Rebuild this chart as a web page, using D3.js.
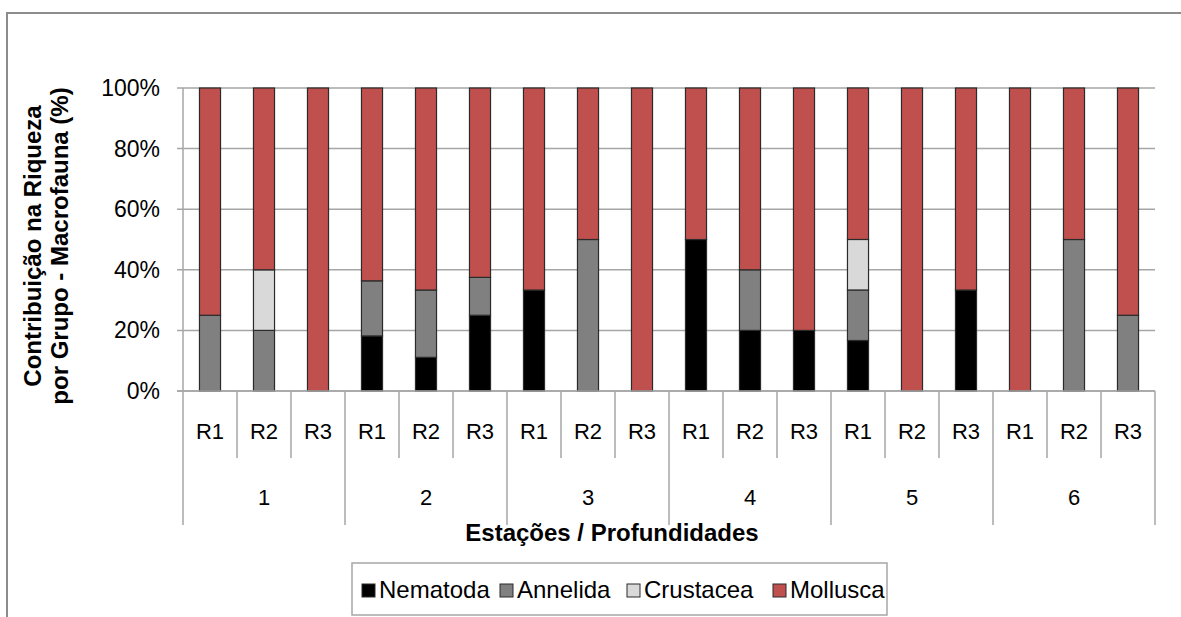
<!DOCTYPE html>
<html>
<head>
<meta charset="utf-8">
<script src="https://cdn.jsdelivr.net/npm/d3@7"></script>
<style>
  html, body { margin: 0; padding: 0; background: #fff; }
  svg { display: block; font-family: Arial, "Liberation Sans", sans-serif; }
</style>
</head>
<body>
<svg id="chart" width="1181" height="617"></svg>
<script>
// Stations and replicate labels
const stations = ["1", "2", "3", "4", "5", "6"];
const replicates = ["R1", "R2", "R3"];
const groups = ["Nematoda", "Annelida", "Crustacea", "Mollusca"];
const groupColors = ["#000000", "#808080", "#D9D9D9", "#C0504D"];
const yTicks = [0, 20, 40, 60, 80, 100];

// Percent contribution per group, one entry per station/replicate (1-R1 … 6-R3)
const nematoda  = [0, 0, 0, 18.18, 11.11, 25, 33.33, 0, 0, 50, 20, 20, 16.67, 0, 33.33, 0, 0, 0];
const annelida  = [25, 20, 0, 18.18, 22.22, 12.5, 0, 50, 0, 0, 20, 0, 16.67, 0, 0, 0, 50, 25];
const crustacea = [0, 20, 0, 0, 0, 0, 0, 0, 0, 0, 0, 0, 16.67, 0, 0, 0, 0, 0];
const mollusca  = [75, 60, 100, 63.64, 66.67, 62.5, 66.67, 50, 100, 50, 60, 80, 50, 100, 66.67, 100, 50, 75];

const seriesValues = [nematoda, annelida, crustacea, mollusca];

const cats = [];
stations.forEach(s => replicates.forEach(r => cats.push({ key: s + "-" + r, station: s, rep: r })));
const rows = cats.map((c, i) => {
  const row = { key: c.key };
  groups.forEach((g, gi) => { row[g] = seriesValues[gi][i]; });
  return row;
});

const svg = d3.select("#chart");
const plotLeft = 183, plotRight = 1155, plotTop = 88, plotBottom = 391;

// Outer frame
svg.append("path")
  .attr("d", "M7,617 V13 H1181")
  .attr("fill", "none").attr("stroke", "#8c8c8c").attr("stroke-width", 2);

const x = d3.scaleBand().domain(cats.map(c => c.key)).range([plotLeft, plotRight]).padding(0);
const y = d3.scaleLinear().domain([0, 100]).range([plotBottom, plotTop]);
const barW = x.bandwidth() * 0.39;

// Horizontal gridlines with outward ticks
svg.append("g").selectAll("line").data(yTicks).join("line")
  .attr("x1", plotLeft - 6).attr("x2", plotRight)
  .attr("y1", d => y(d)).attr("y2", d => y(d))
  .attr("stroke", "#a6a6a6").attr("stroke-width", 1.5);

// Value axis line
svg.append("line").attr("x1", plotLeft).attr("x2", plotLeft).attr("y1", plotTop).attr("y2", plotBottom)
  .attr("stroke", "#a6a6a6").attr("stroke-width", 1.5);

// Tick labels
svg.append("g").selectAll("text").data(yTicks).join("text")
  .attr("x", 160).attr("y", d => y(d) + 8)
  .attr("text-anchor", "end").attr("font-size", 23).attr("fill", "#000")
  .text(d => d + "%");

// Stacked bars
const stack = d3.stack().keys(groups)(rows);
svg.append("g").selectAll("g").data(stack).join("g")
  .attr("fill", (d, i) => groupColors[i])
  .selectAll("rect").data(d => d.filter(p => p[1] - p[0] > 0)).join("rect")
  .attr("x", d => x(d.data.key) + (x.bandwidth() - barW) / 2)
  .attr("width", barW)
  .attr("y", d => y(d[1]))
  .attr("height", d => y(d[0]) - y(d[1]))
  .attr("stroke", "#2b2b2b").attr("stroke-width", 1.2);

// Category axis: baseline, separators and labels
const axisG = svg.append("g");
axisG.append("line").attr("x1", plotLeft - 6).attr("x2", plotRight).attr("y1", plotBottom).attr("y2", plotBottom)
  .attr("stroke", "#a6a6a6").attr("stroke-width", 1.5);
const bounds = d3.range(cats.length + 1);
axisG.selectAll("line.sep").data(bounds).join("line").attr("class", "sep")
  .attr("x1", i => i < cats.length ? x(cats[i].key) : plotRight)
  .attr("x2", i => i < cats.length ? x(cats[i].key) : plotRight)
  .attr("y1", plotBottom)
  .attr("y2", i => i % 3 === 0 ? 525 : 458)
  .attr("stroke", "#a6a6a6").attr("stroke-width", 1.5);

axisG.selectAll("text.rep").data(cats).join("text").attr("class", "rep")
  .attr("x", d => x(d.key) + x.bandwidth() / 2).attr("y", 439)
  .attr("text-anchor", "middle").attr("font-size", 22).text(d => d.rep);

axisG.selectAll("text.st").data(stations).join("text").attr("class", "st")
  .attr("x", s => x(s + "-R2") + x.bandwidth() / 2).attr("y", 505)
  .attr("text-anchor", "middle").attr("font-size", 22).text(s => s);

// Axis titles
svg.append("text").attr("x", 612).attr("y", 541).attr("text-anchor", "middle")
  .attr("font-size", 24).attr("font-weight", "bold").text("Estações / Profundidades");

const yt = svg.append("text").attr("transform", "translate(41,246) rotate(-90)")
  .attr("text-anchor", "middle").attr("font-size", 24).attr("font-weight", "bold");
yt.append("tspan").attr("x", 0).attr("y", 0).text("Contribuição na Riqueza");
yt.append("tspan").attr("x", 0).attr("y", 27).text("por Grupo - Macrofauna (%)");

// Legend
const legend = svg.append("g");
legend.append("rect").attr("x", 352).attr("y", 563).attr("width", 535).attr("height", 52)
  .attr("fill", "#fff").attr("stroke", "#a6a6a6").attr("stroke-width", 1.5);
const legX = [362, 500, 627, 773];
const items = legend.selectAll("g").data(groups).join("g")
  .attr("transform", (d, i) => `translate(${legX[i]},584)`);
items.append("rect").attr("width", 13).attr("height", 13)
  .attr("fill", (d, i) => groupColors[i]).attr("stroke", "#2b2b2b").attr("stroke-width", 1);
items.append("text").attr("x", 17).attr("y", 14).attr("font-size", 24).text(d => d);
</script>
</body>
</html>
